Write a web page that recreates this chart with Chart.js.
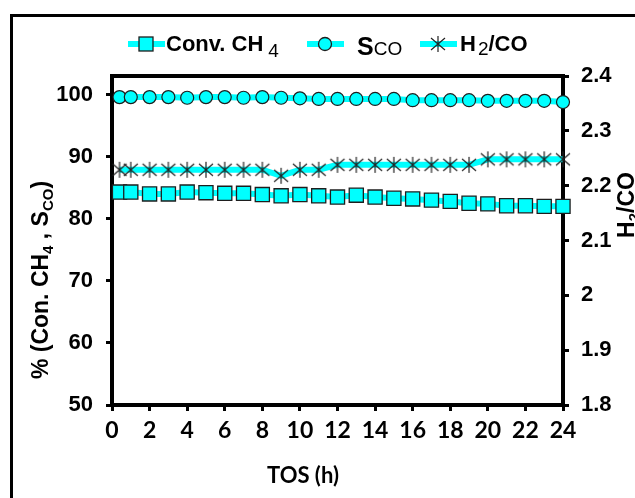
<!DOCTYPE html>
<html>
<head>
<meta charset="utf-8">
<script src="https://cdn.jsdelivr.net/npm/chart.js@4.4.0/dist/chart.umd.min.js"></script>
<style>
body { margin: 0; background: #fff; overflow: hidden; }
#wrap { position: relative; width: 635px; height: 498px; overflow: hidden; }
#frame { position: absolute; left: 10px; top: 14px; width: 700px; height: 600px; border-top: 3px solid #000; border-left: 3px solid #000; }
#myChart { position: absolute; left: 0; top: 0; }
</style>
</head>
<body>
<div id="wrap">
  <div id="frame"></div>
  <canvas id="myChart" width="635" height="498"></canvas>
</div>
<script>
// time on stream (h)
const tos = [0.4, 1, 2, 3, 4, 5, 6, 7, 8, 9, 10, 11, 12, 13, 14, 15, 16, 17, 18, 19, 20, 21, 22, 23, 24];
// Conv. CH4 (%)
const convCH4 = [84.3, 84.3, 84.0, 84.0, 84.3, 84.2, 84.1, 84.1, 83.9, 83.7, 83.9, 83.7, 83.5, 83.8, 83.5, 83.3, 83.2, 83.0, 82.8, 82.5, 82.4, 82.1, 82.1, 82.0, 82.0];
// S CO (%)
const sCO = [99.6, 99.6, 99.6, 99.6, 99.5, 99.6, 99.6, 99.5, 99.6, 99.5, 99.4, 99.3, 99.3, 99.3, 99.3, 99.3, 99.1, 99.1, 99.1, 99.1, 99.0, 99.0, 99.0, 99.0, 98.8];
// H2/CO ratio (right axis)
const h2co = [2.229, 2.229, 2.229, 2.229, 2.229, 2.229, 2.229, 2.229, 2.229, 2.218, 2.229, 2.229, 2.238, 2.238, 2.238, 2.238, 2.238, 2.238, 2.238, 2.238, 2.248, 2.248, 2.248, 2.248, 2.248];

const xTicks = [0, 2, 4, 6, 8, 10, 12, 14, 16, 18, 20, 22, 24];
const leftTicks = [50, 60, 70, 80, 90, 100];
const rightTicks = [1.8, 1.9, 2.0, 2.1, 2.2, 2.3, 2.4];

const cyan = '#00ffff';
const dark = '#1e1e1e';
const arial = '"Liberation Sans", Arial, sans-serif';

function toPoints(xs, ys) {
	return xs.map((x, i) => ({ x: x, y: ys[i] }));
}

// asterisk marker like the excel one
function makeStar() {
	var c = document.createElement('canvas');
	c.width = 18;
	c.height = 18;
	var g = c.getContext('2d');
	g.strokeStyle = '#222';
	g.lineWidth = 1.2;
	g.beginPath();
	g.moveTo(9, 1); g.lineTo(9, 17);
	g.moveTo(2, 3); g.lineTo(16, 15);
	g.moveTo(16, 3); g.lineTo(2, 15);
	g.stroke();
	return c;
}
const star = makeStar();

// text with sub parts
function drawRich(ctx, x, y, parts) {
	parts.forEach(p => {
		ctx.font = p.f;
		x += (p.gap || 0);
		ctx.fillText(p.t, x, y + (p.dy || 0));
		x += ctx.measureText(p.t).width;
	});
}
function richWidth(ctx, parts) {
	var w = 0;
	parts.forEach(p => {
		ctx.font = p.f;
		w += ctx.measureText(p.t).width + (p.gap || 0);
	});
	return w;
}

function legendMarker(ctx, kind, x, y) {
	ctx.save();
	ctx.fillStyle = cyan;
	ctx.strokeStyle = dark;
	ctx.lineWidth = 1.3;
	if (kind == 'rect') {
		ctx.fillRect(x - 7, y - 7, 14, 14);
		ctx.strokeRect(x - 7, y - 7, 14, 14);
	} else if (kind == 'circle') {
		ctx.beginPath();
		ctx.arc(x, y, 6.5, 0, Math.PI * 2);
		ctx.fill();
		ctx.stroke();
	} else {
		ctx.drawImage(star, x - 9, y - 9);
	}
	ctx.restore();
}

const extras = {
	id: 'extras',
	beforeDatasetsDraw(chart) {
		var a = chart.chartArea, ctx = chart.ctx;
		ctx.save();
		ctx.strokeStyle = '#000';
		ctx.lineWidth = 4;
		ctx.beginPath();
		ctx.moveTo(a.left - 2, a.top);
		ctx.lineTo(a.right + 2, a.top);
		ctx.stroke();
		ctx.restore();
	},
	afterDraw(chart) {
		var ctx = chart.ctx;
		ctx.save();
		ctx.fillStyle = '#000';
		ctx.textBaseline = 'alphabetic';
		ctx.textAlign = 'left';

		// legend
		var ly = 44;
		var items = [
			{ x: 128, kind: 'rect', tx: 166, parts: [
				{ t: 'Conv. CH', f: 'bold 22px ' + arial },
				{ t: '4', f: '19px ' + arial, dy: 6, gap: 5 }] },
			{ x: 307, kind: 'circle', tx: 357, parts: [
				{ t: 'S', f: 'bold 25px ' + arial, dy: 4 },
				{ t: 'CO', f: '19px ' + arial, dy: 4 }] },
			{ x: 420, kind: 'star', tx: 460, parts: [
				{ t: 'H', f: 'bold 22px ' + arial },
				{ t: '2', f: '19px ' + arial, dy: 4, gap: 2 },
				{ t: '/CO', f: 'bold 22px ' + arial }] }
		];
		items.forEach(it => {
			ctx.strokeStyle = cyan;
			ctx.lineWidth = 6;
			ctx.beginPath();
			ctx.moveTo(it.x, ly);
			ctx.lineTo(it.x + 37, ly);
			ctx.stroke();
			legendMarker(ctx, it.kind, it.x + 18, ly);
			drawRich(ctx, it.tx, ly + 7, it.parts);
		});

		// left axis title
		var lp = [
			{ t: '% (Con. CH', f: 'bold 23px ' + arial },
			{ t: '4', f: 'bold 15px ' + arial, dy: 5 },
			{ t: ' , S', f: 'bold 23px ' + arial },
			{ t: 'CO', f: 'bold 15px ' + arial, dy: 5 },
			{ t: ')', f: 'bold 23px ' + arial }
		];
		ctx.save();
		ctx.translate(48, 280);
		ctx.rotate(-Math.PI / 2);
		drawRich(ctx, -richWidth(ctx, lp) / 2, 0, lp);
		ctx.restore();

		// right axis title
		var rp = [
			{ t: 'H', f: 'bold 23px ' + arial },
			{ t: '2', f: 'bold 15px ' + arial, dy: 5 },
			{ t: '/CO', f: 'bold 23px ' + arial }
		];
		ctx.save();
		ctx.translate(634, 205);
		ctx.rotate(-Math.PI / 2);
		drawRich(ctx, -richWidth(ctx, rp) / 2, 0, rp);
		ctx.restore();

		// x axis title
		ctx.font = 'bold 22px Lato, sans-serif';
		ctx.textAlign = 'center';
		ctx.fillText('TOS (h)', 303, 483);
		ctx.restore();
	}
};

var chartData = {
	type: 'line',
	data: {
		datasets: [{
			label: 'Conv. CH4',
			data: toPoints(tos, convCH4),
			yAxisID: 'y',
			borderColor: cyan,
			borderWidth: 6,
			pointStyle: 'rect',
			pointRadius: 10,
			pointBackgroundColor: cyan,
			pointBorderColor: dark,
			pointBorderWidth: 1.3,
			clip: false
		}, {
			label: 'SCO',
			data: toPoints(tos, sCO),
			yAxisID: 'y',
			borderColor: cyan,
			borderWidth: 6,
			pointStyle: 'circle',
			pointRadius: 6.5,
			pointBackgroundColor: cyan,
			pointBorderColor: dark,
			pointBorderWidth: 1.2,
			clip: false
		}, {
			label: 'H2/CO',
			data: toPoints(tos, h2co),
			yAxisID: 'y1',
			borderColor: cyan,
			borderWidth: 6,
			pointStyle: star,
			clip: false
		}]
	},
	options: {
		responsive: false,
		animation: false,
		events: [],
		layout: { padding: { top: 76 } },
		plugins: {
			legend: { display: false },
			tooltip: { enabled: false }
		},
		scales: {
			x: {
				type: 'linear',
				min: 0,
				max: 24,
				afterFit: s => { s.height = 93; },
				afterBuildTicks: s => { s.ticks = xTicks.map(v => ({ value: v })); },
				ticks: { color: '#000', padding: 6, font: { family: 'Lato', weight: 'bold', size: 23 } },
				grid: { drawOnChartArea: false, tickLength: 6, lineWidth: 3, color: '#000' },
				border: { display: true, width: 4, color: '#000' }
			},
			y: {
				position: 'left',
				min: 50,
				max: 103,
				afterFit: s => { s.width = 112; },
				afterBuildTicks: s => { s.ticks = leftTicks.map(v => ({ value: v })); },
				ticks: { color: '#000', padding: 13, font: { family: 'Liberation Sans', weight: 'bold', size: 22 } },
				grid: { drawOnChartArea: false, tickLength: 6, lineWidth: 3, color: '#000' },
				border: { display: true, width: 4, color: '#000' }
			},
			y1: {
				position: 'right',
				min: 1.8,
				max: 2.4,
				afterFit: s => { s.width = 72; },
				afterBuildTicks: s => { s.ticks = rightTicks.map(v => ({ value: v })); },
				ticks: { color: '#000', padding: 12, font: { family: 'Liberation Sans', weight: 'bold', size: 22 },
					callback: v => String(+v.toFixed(1)) },
				grid: { drawOnChartArea: false, tickLength: 6, lineWidth: 3, color: '#000' },
				border: { display: true, width: 4, color: '#000' }
			}
		}
	},
	plugins: [extras]
};

var myChart = new Chart(document.getElementById('myChart').getContext('2d'), chartData);
</script>
</body>
</html>
